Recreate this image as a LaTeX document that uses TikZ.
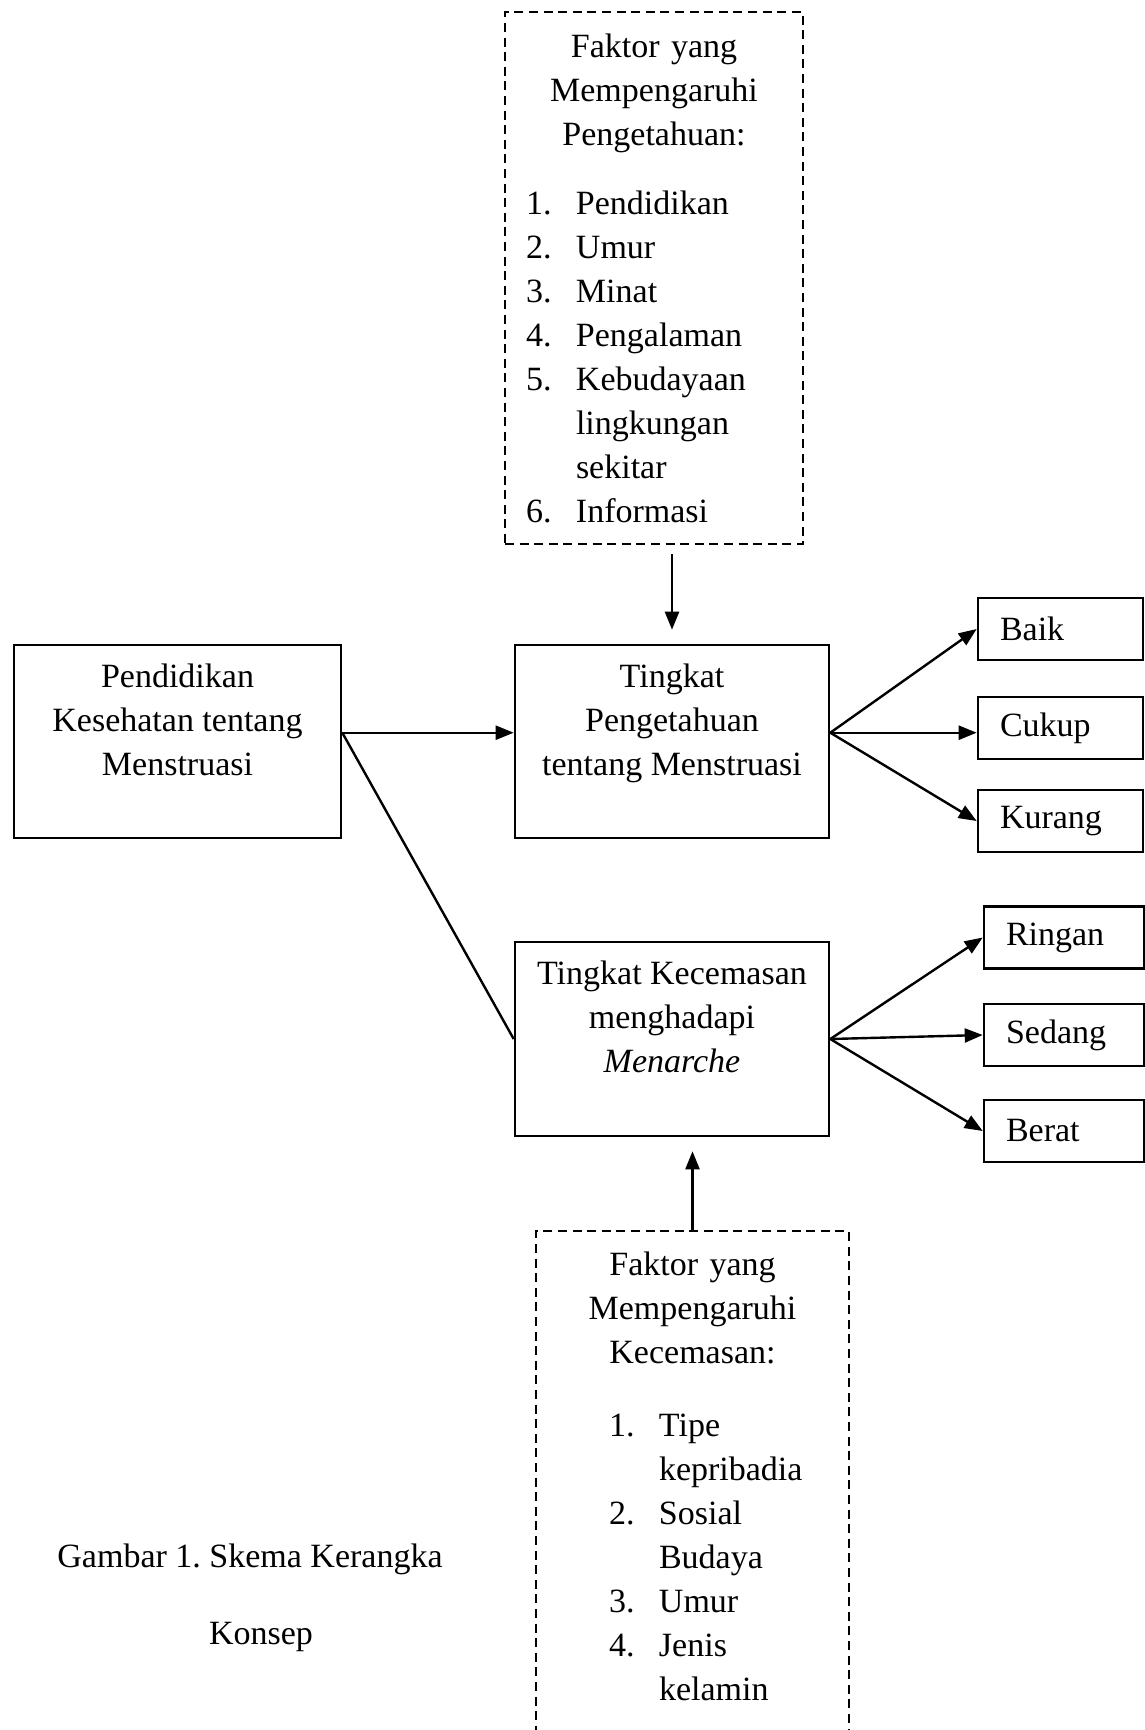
\documentclass[tikz,border=0pt]{standalone}
\usepackage{fontspec}
\setmainfont{Liberation Serif}
\usetikzlibrary{arrows.meta,positioning,calc}
\definecolor{ink}{HTML}{000000}
\frenchspacing
\newcommand{\itm}[1]{\makebox[25pt][l]{#1}}
\newcommand{\itmb}[1]{\hspace*{26pt}\makebox[25pt][l]{#1}}
\tikzset{
  box/.style={draw=ink, line width=1.3pt, fill=white, align=center, inner sep=0pt, minimum height=96.5pt, font=\fontsize{17}{22}\selectfont},
  catbox/.style={draw=ink, line width=1.3pt, fill=white, align=left, inner xsep=11pt, inner ysep=0pt, minimum height=31pt, font=\fontsize{17}{22}\selectfont},
  dashbox/.style={draw=ink, line width=1.2pt, dash pattern=on 4.5pt off 2.8pt, inner xsep=10.5pt, inner ysep=8.5pt, anchor=north, font=\fontsize{17}{22}\selectfont},
  caption/.style={align=center, font=\fontsize{17}{22}\selectfont},
  arrow/.style={-{Triangle[length=9pt,width=7pt]}, line width=1.2pt, draw=ink},
  line/.style={line width=1.2pt, draw=ink}
}
\begin{document}
\begin{tikzpicture}[x=0.5pt,y=-0.5pt]
\useasboundingbox (0,0) rectangle (1145,1730);
% factor boxes
\node[dashbox, text width=128pt, minimum height=266pt] (faktor1) at (654,11) {\centering Faktor yang\\Mempengaruhi\\Pengetahuan:\par
\vspace{12.5pt}\raggedright
\itm{1.}Pendidikan\\
\itm{2.}Umur\\
\itm{3.}Minat\\
\itm{4.}Pengalaman\\
\itm{5.}Kebudayaan\\
\itm{}lingkungan\\
\itm{}sekitar\\
\itm{6.}Informasi};
\node[dashbox, text width=135.5pt, inner ysep=10.5pt] (faktor2) at (692.5,1230) {\centering Faktor yang\\Mempengaruhi\\Kecemasan:\par
\vspace{14.5pt}\raggedright
\itmb{1.}Tipe\\
\itmb{}kepribadia\\
\itmb{2.}Sosial\\
\itmb{}Budaya\\
\itmb{3.}Umur\\
\itmb{4.}Jenis\\
\itmb{}kelamin\par
\rule{0pt}{40pt}};
% main boxes
\node[box, minimum width=163.5pt] (pend) at (177.5,741.5) {Pendidikan\\Kesehatan tentang\\Menstruasi\\[-6.6pt]\strut};
\node[box, minimum width=157pt] (tahu) at (672,741.5) {Tingkat\\Pengetahuan\\tentang Menstruasi\\[-6.6pt]\strut};
\node[box, minimum width=157pt, minimum height=97pt] (cemas) at (672,1039) {Tingkat Kecemasan\\menghadapi\\\textit{Menarche}\\[-6.6pt]\strut};
% categories
\node[catbox, text width=60.5pt] (baik) at (1060.5,629) {Baik};
\node[catbox, text width=60.5pt] (cukup) at (1060.5,728) {Cukup};
\node[catbox, text width=60.5pt] (kurang) at (1060.5,821) {Kurang};
\node[catbox, text width=58pt] (ringan) at (1064,937.5) {Ringan};
\node[catbox, text width=58pt] (sedang) at (1064,1035) {Sedang};
\node[catbox, text width=58pt] (berat) at (1064,1131) {Berat};
\node[caption] (capt) at (250,1597.5) {Gambar 1. Skema Kerangka\\[16.5pt]\hspace*{11pt}Konsep};
% connectors
\coordinate (pendout) at ([yshift=4.4pt]pend.east);
\coordinate (tahuout) at ([yshift=4.4pt]tahu.east);
\draw[arrow, shorten <=4.5pt, shorten >=7pt] (faktor1.south -| tahu.north) -- (tahu.north);
\draw[arrow, shorten >=7pt] (faktor2.north) -- (faktor2.north |- cemas.south);
\draw[arrow] (pendout) -- (pendout -| tahu.west);
\draw[line] (pendout) -- (cemas.west);
\draw[arrow] (tahuout) -- (baik.west);
\draw[arrow] (tahuout) -- (tahuout -| cukup.west);
\draw[arrow] (tahuout) -- (kurang.west);
\draw[arrow] (cemas.east) -- (ringan.west);
\draw[arrow] (cemas.east) -- (sedang.west);
\draw[arrow] (cemas.east) -- (berat.west);
\end{tikzpicture}
\end{document}
